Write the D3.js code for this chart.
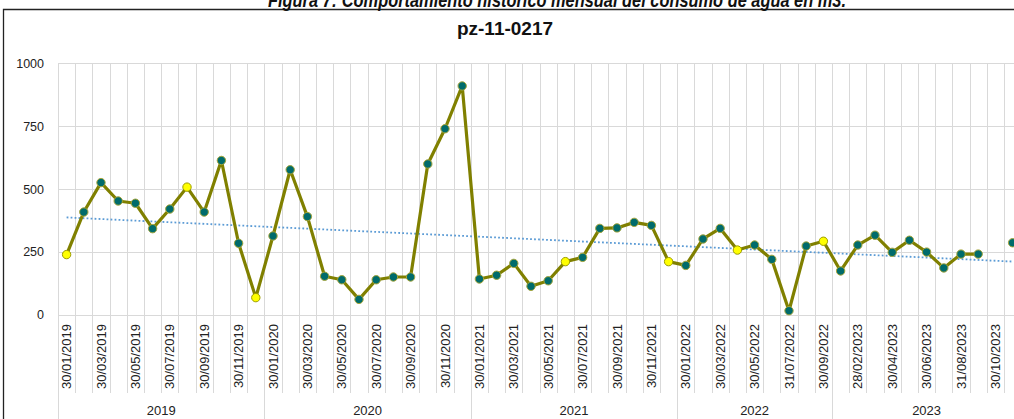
<!DOCTYPE html>
<html>
<head>
<meta charset="utf-8">
<script src="https://cdn.jsdelivr.net/npm/d3@7"></script>
<style>
  body { margin: 0; background: #fff; overflow: hidden; }
  svg { display: block; font-family: "Liberation Sans", Arial, sans-serif; }
</style>
</head>
<body>
<div class="canvas"></div>
<script>
// chart data
const title = 'pz-11-0217'
const caption = 'Figura 7: Comportamiento histórico mensual del consumo de agua en m3.'

const years = ['2019', '2020', '2021', '2022', '2023']
const monthsPerYear = [12, 12, 12, 9, 11]

const dates = [
  '30/01/2019','28/02/2019','30/03/2019','30/04/2019','30/05/2019','30/06/2019',
  '30/07/2019','30/08/2019','30/09/2019','30/10/2019','30/11/2019','30/12/2019',
  '30/01/2020','29/02/2020','30/03/2020','30/04/2020','30/05/2020','30/06/2020',
  '30/07/2020','30/08/2020','30/09/2020','30/10/2020','30/11/2020','30/12/2020',
  '30/01/2021','28/02/2021','30/03/2021','30/04/2021','30/05/2021','30/06/2021',
  '30/07/2021','30/08/2021','30/09/2021','30/10/2021','30/11/2021','30/12/2021',
  '30/01/2022','28/02/2022','30/03/2022','30/04/2022','30/05/2022','30/06/2022',
  '31/07/2022','31/08/2022','30/09/2022',
  '31/01/2023','28/02/2023','31/03/2023','30/04/2023','31/05/2023','30/06/2023',
  '31/07/2023','31/08/2023','30/09/2023','30/10/2023','30/11/2023'
]

const consumo = [
  240, 409, 526, 453, 444, 343, 421, 508, 409, 614, 285, 69,
  314, 577, 391, 154, 140, 62, 140, 151, 151, 600, 740, 910,
  143, 158, 205, 114, 136, 212, 229, 344, 346, 368, 356, 212,
  197, 302, 344, 258, 278, 221, 17, 274, 293,
  175, 278, 317, 249, 297, 250, 187, 242, 242, null, 287
]

// points drawn with a yellow marker
const highlighted = [0, 7, 11, 29, 35, 39, 44]

const yTicks = [0, 250, 500, 750, 1000]

// graph setup
const dims = { width: 1014, height: 419 }
const plot = { left: 58, top: 63.3, bottom: 315, step: 17.2 }

const svg = d3.select('.canvas')
  .append('svg')
  .attr('width', dims.width)
  .attr('height', dims.height)

// scales
const x = d3.scaleBand()
  .domain(d3.range(dates.length))
  .range([plot.left, plot.left + plot.step * dates.length])
  .padding(0)

const y = d3.scaleLinear()
  .domain([0, 1000])
  .range([plot.bottom, plot.top])

const cx = i => x(i) + x.bandwidth() / 2

// frame
svg.append('path')
  .attr('d', `M3.5,${dims.height + 5} V9.5 H${dims.width + 5}`)
  .attr('fill', 'none')
  .attr('stroke', '#222')
  .attr('stroke-width', 1.3)

// caption (the page crop cuts it at the top)
svg.append('text')
  .attr('x', 268)
  .attr('y', 7)
  .attr('font-size', 21)
  .attr('font-weight', 'bold')
  .attr('font-style', 'italic')
  .attr('textLength', 578)
  .attr('lengthAdjust', 'spacingAndGlyphs')
  .attr('fill', '#111')
  .text(caption)

// title
svg.append('text')
  .attr('x', 505)
  .attr('y', 35)
  .attr('text-anchor', 'middle')
  .attr('font-size', 19)
  .attr('font-weight', 'bold')
  .attr('fill', '#111')
  .text(title)

const grid = svg.append('g')

// horizontal gridlines
grid.selectAll('.hgrid')
  .data(yTicks)
  .enter()
  .append('line')
  .attr('x1', plot.left)
  .attr('x2', x.range()[1])
  .attr('y1', d => Math.round(y(d)) + 0.5)
  .attr('y2', d => Math.round(y(d)) + 0.5)
  .attr('stroke', '#d9d9d9')

// vertical gridlines, carried down through the date labels
grid.selectAll('.vgrid')
  .data(d3.range(dates.length + 1))
  .enter()
  .append('line')
  .attr('x1', d => Math.round(plot.left + d * plot.step) + 0.5)
  .attr('x2', d => Math.round(plot.left + d * plot.step) + 0.5)
  .attr('y1', plot.top)
  .attr('y2', 393)
  .attr('stroke', '#d9d9d9')

// year separators
let acc = 0
const yearBounds = [0].concat(monthsPerYear.map(n => (acc += n)))
grid.selectAll('.ysep')
  .data(yearBounds)
  .enter()
  .append('line')
  .attr('x1', d => Math.round(plot.left + d * plot.step) + 0.5)
  .attr('x2', d => Math.round(plot.left + d * plot.step) + 0.5)
  .attr('y1', plot.bottom)
  .attr('y2', dims.height)
  .attr('stroke', '#d9d9d9')

// y axis labels
svg.append('g')
  .selectAll('text')
  .data(yTicks)
  .enter()
  .append('text')
  .attr('x', 44)
  .attr('y', d => y(d))
  .attr('dy', '0.35em')
  .attr('text-anchor', 'end')
  .attr('font-size', 12.5)
  .attr('fill', '#222')
  .text(d => d)

// date labels (every other month)
svg.append('g')
  .selectAll('text')
  .data(dates.map((d, i) => ({ d, i })).filter(o => o.i % 2 === 0))
  .enter()
  .append('text')
  .attr('transform', o => `translate(${cx(o.i)}, 324) rotate(-90)`)
  .attr('dy', '0.36em')
  .attr('text-anchor', 'end')
  .attr('font-size', 13)
  .attr('fill', '#222')
  .text(o => o.d)

// year labels
svg.append('g')
  .selectAll('text')
  .data(years)
  .enter()
  .append('text')
  .attr('x', (d, i) => plot.left + (yearBounds[i] + yearBounds[i + 1]) / 2 * plot.step)
  .attr('y', 415)
  .attr('text-anchor', 'middle')
  .attr('font-size', 13)
  .attr('fill', '#222')
  .text(d => d)

// trend line (least squares over the monthly values)
const pts = consumo.map((v, i) => [i, v]).filter(p => p[1] !== null)
const mx = d3.mean(pts, p => p[0])
const my = d3.mean(pts, p => p[1])
const slope = d3.sum(pts, p => (p[0] - mx) * (p[1] - my)) / d3.sum(pts, p => (p[0] - mx) ** 2)
const icpt = my - slope * mx
const trendEnds = [0, dates.length - 1]

svg.append('path')
  .datum(trendEnds)
  .attr('fill', 'none')
  .attr('stroke', '#5b9bd5')
  .attr('stroke-width', 1.8)
  .attr('stroke-dasharray', '1.8,2.2')
  .attr('d', d3.line()
    .x(i => cx(i))
    .y(i => y(icpt + slope * i)))

// consumption line
svg.append('path')
  .datum(consumo)
  .attr('fill', 'none')
  .attr('stroke', '#808000')
  .attr('stroke-width', 3.2)
  .attr('stroke-linejoin', 'round')
  .attr('d', d3.line()
    .defined(d => d !== null)
    .x((d, i) => cx(i))
    .y(d => y(d)))

// markers
svg.append('g')
  .selectAll('circle')
  .data(consumo.map((v, i) => ({ v, i })).filter(o => o.v !== null))
  .enter()
  .append('circle')
  .attr('cx', o => cx(o.i))
  .attr('cy', o => y(o.v))
  .attr('r', 4.2)
  .attr('fill', o => highlighted.includes(o.i) ? '#ffff00' : '#006b6b')
  .attr('stroke', o => highlighted.includes(o.i) ? '#9c9c00' : '#a5a53a')
  .attr('stroke-width', 1)
</script>
</body>
</html>
